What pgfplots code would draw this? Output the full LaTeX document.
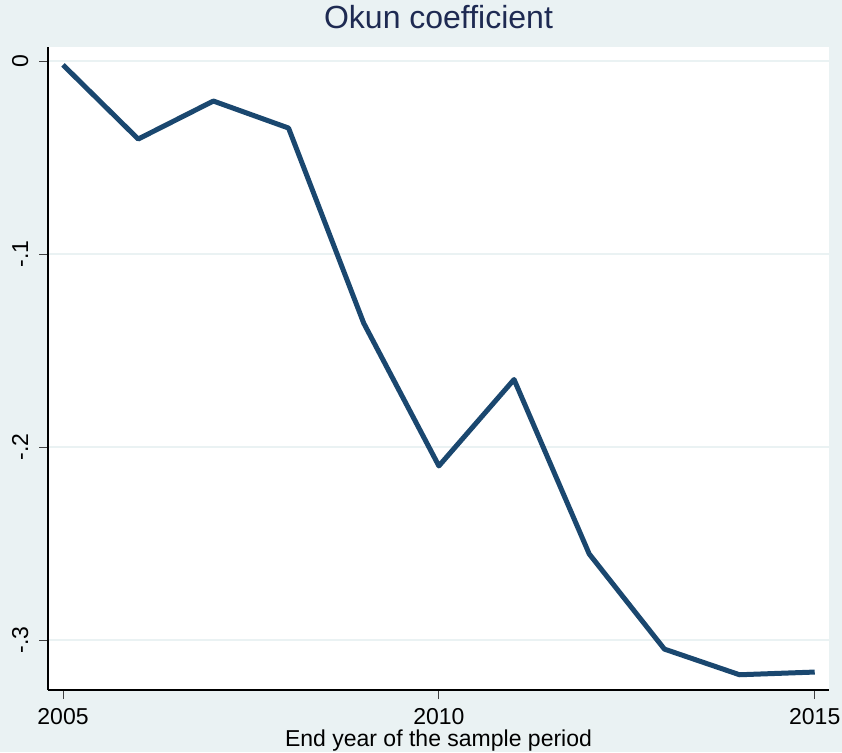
\documentclass[border=0pt]{standalone}
\usepackage{pgfplots}
\pgfplotsset{compat=1.18}
\usepackage{fontspec}
\setmainfont{Liberation Sans}

\definecolor{bgblue}{HTML}{EAF2F3}
\definecolor{stnavy}{HTML}{1A476F}
\definecolor{titlenavy}{HTML}{1E2A52}

\begin{document}
\begin{tikzpicture}
\fill[bgblue] (0,0) rectangle (842pt,752pt);
\useasboundingbox (0,0) rectangle (842pt,752pt);
\begin{axis}[
    at={(48pt,62pt)}, anchor=south west,
    scale only axis, width=781pt, height=643pt,
    xmin=2004.80, xmax=2015.19,
    ymin=-0.3259, ymax=0.0073,
    axis x line*=bottom, axis y line*=left,
    axis line style={-, black, line width=1.2pt},
    axis background/.style={fill=white},
    xtick={2005,2010,2015},
    xticklabels={2005,2010,2015},
    ytick={0,-0.1,-0.2,-0.3},
    yticklabels={0,-.1,-.2,-.3},
    tick align=outside,
    major tick length=9pt,
    tick style={black!75, line width=1pt},
    ymajorgrids,
    grid style={bgblue, line width=2pt},
    /pgf/number format/assume math mode=true,
    tick label style={font=\fontsize{23}{23}\selectfont},
    xticklabel style={anchor=base, yshift=-25pt},
    yticklabel style={xshift=-11pt, rotate=90, anchor=base},
    title={Okun coefficient},
    title style={at={(axis description cs:0.5,1)}, anchor=base, yshift=12pt,
        font=\fontsize{32}{32}\selectfont, text=titlenavy},
    xlabel={End year of the sample period},
    xlabel style={at={(axis description cs:0.5,0)}, anchor=base, yshift=-56pt,
        font=\fontsize{23}{23}\selectfont},
    clip=false,
]
\addplot[stnavy, line width=5pt, line join=round] coordinates {
    (2005,-0.0020) (2006,-0.0404) (2007,-0.0207) (2008,-0.0347)
    (2009,-0.1358) (2010,-0.2098) (2011,-0.1650) (2012,-0.2554)
    (2013,-0.3047) (2014,-0.3180) (2015,-0.3166)
};
\end{axis}
\end{tikzpicture}
\end{document}
